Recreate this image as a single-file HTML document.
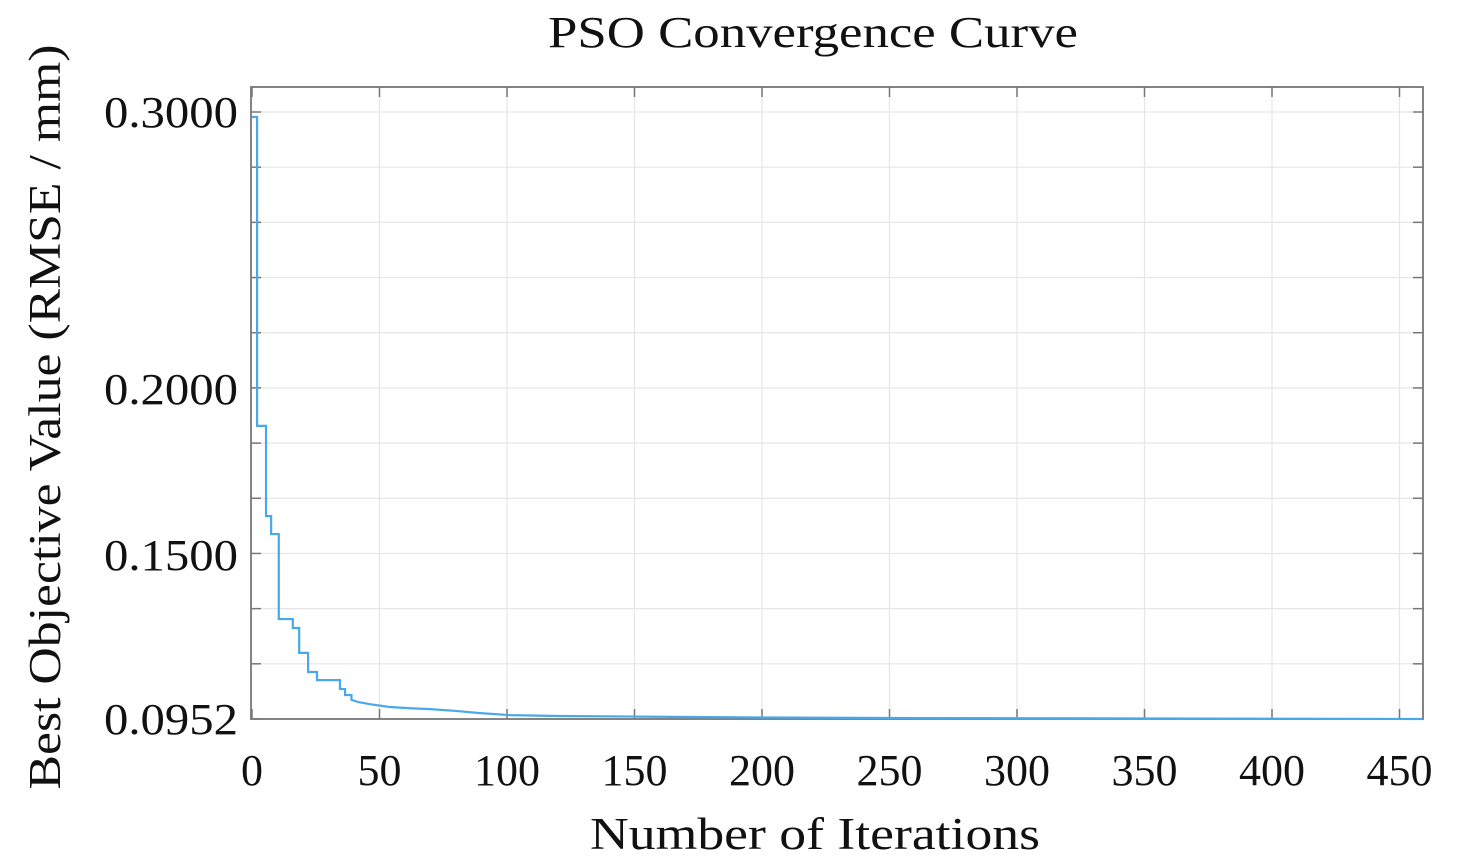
<!DOCTYPE html>
<html><head><meta charset="utf-8"><style>
html,body{margin:0;padding:0;background:#fff;}
svg{display:block;font-family:"Liberation Serif",serif;}
</style></head><body>
<svg id="chart" width="1471" height="867" viewBox="0 0 1471 867" xmlns="http://www.w3.org/2000/svg">
<text x="813" y="47" font-size="44" text-anchor="middle" textLength="530" lengthAdjust="spacingAndGlyphs" fill="#111">PSO Convergence Curve</text>
<text x="815" y="849" font-size="45" text-anchor="middle" textLength="450" lengthAdjust="spacingAndGlyphs" fill="#111">Number of Iterations</text>
<text transform="translate(60,417) rotate(-90)" font-size="45" text-anchor="middle" textLength="745" lengthAdjust="spacingAndGlyphs" fill="#111">Best Objective Value (RMSE / mm)</text>
<g id="grid"></g>
<g id="axes"></g>
<g id="series"></g>
</svg>
<script>
const xTicks=[0,50,100,150,200,250,300,350,400,450];
const yTickLabels=["0.3000","0.2000","0.1500","0.0952"];
const yTickValues=[0.3,0.2,0.15,0.0952];
const iterations=[0,2,5.5,7.5,10.5,16,18.5,22,25.5,34.5,36.5,39,42,46,50,54,62,70,80,89,101,120,152,199,260,330,400,459];
const bestValues=[0.2982,0.1889,0.1617,0.1563,0.1286,0.1256,0.1173,0.1109,0.1082,0.1052,0.1032,0.1016,0.1008,0.1002,0.0997,0.0992,0.0988,0.0985,0.0979,0.0972,0.0965,0.0962,0.0960,0.0957,0.0955,0.0954,0.0953,0.0952];
const L=251,R=1423,T=87,B=719;
const X=v=>L+1+v*(1399.5-252)/450;
const yAnchorPx=[112,389,555,719];
function Y(v){
  for(let i=0;i<yTickValues.length-1;i++){
    const a=yTickValues[i],b=yTickValues[i+1];
    if(v<=a&&v>=b||i===yTickValues.length-2){
      return yAnchorPx[i]+(a-v)/(a-b)*(yAnchorPx[i+1]-yAnchorPx[i]);
    }
  }
}
const NS="http://www.w3.org/2000/svg";
function mk(tag,parent,attrs){const e=document.createElementNS(NS,tag);for(const k in attrs)e.setAttribute(k,attrs[k]);parent.appendChild(e);return e;}
const grid=document.getElementById('grid'),axes=document.getElementById('axes'),series=document.getElementById('series');
const gstep=(719-112)/11;
for(let i=0;i<12;i++){
  const y=112+i*gstep;
  const g=mk('line',grid,{x1:L,x2:R,y1:y,y2:y,stroke:'#e6e6e6','stroke-width':1.2});
  
  
  const t1=mk('line',axes,{x1:L,x2:L+10,y1:y,y2:y,stroke:'#777','stroke-width':1.5});
  
  
  const t2=mk('line',axes,{x1:R-10,x2:R,y1:y,y2:y,stroke:'#777','stroke-width':1.5});
  
  
}
xTicks.forEach(v=>{
  const x=X(v);
  if(v>0){
    const g=mk('line',grid,{x1:x,x2:x,y1:T,y2:B,stroke:'#e6e6e6','stroke-width':1.2});
    
    
  }
  const t=mk('line',axes,{x1:x,x2:x,y1:B-10,y2:B,stroke:'#777','stroke-width':1.5});
  
  
  const t2=mk('line',axes,{x1:x,x2:x,y1:T,y2:T+10,stroke:'#777','stroke-width':1.5});
  
  
  const lb=mk('text',axes,{x:x,y:785,'font-size':44,'text-anchor':'middle',fill:'#111'});
  lb.textContent=v;
  
  
});
yTickValues.forEach((v,i)=>{
  const lb=mk('text',axes,{x:238,y:Y(v)+15,'font-size':44,'text-anchor':'end',fill:'#111',textLength:134,lengthAdjust:'spacingAndGlyphs'});
  lb.textContent=yTickLabels[i];
  
  
});
const box=mk('rect',axes,{x:L,y:T,width:R-L,height:B-T,fill:'none',stroke:'#777','stroke-width':1.8});


let d='';
for(let i=0;i<iterations.length;i++){
  const x=X(iterations[i]),y=Y(bestValues[i]);
  if(i===0)d+=`M${x},${y}`;
  else if(iterations[i]<=39)d+=`H${x}V${y}`;
  else d+=`L${x},${y}`;
}
d+=`H${R-1}`;
const p=mk('path',series,{d:d,fill:'none',stroke:'#4aa8ea','stroke-width':2.2});


</script>
</body></html>
